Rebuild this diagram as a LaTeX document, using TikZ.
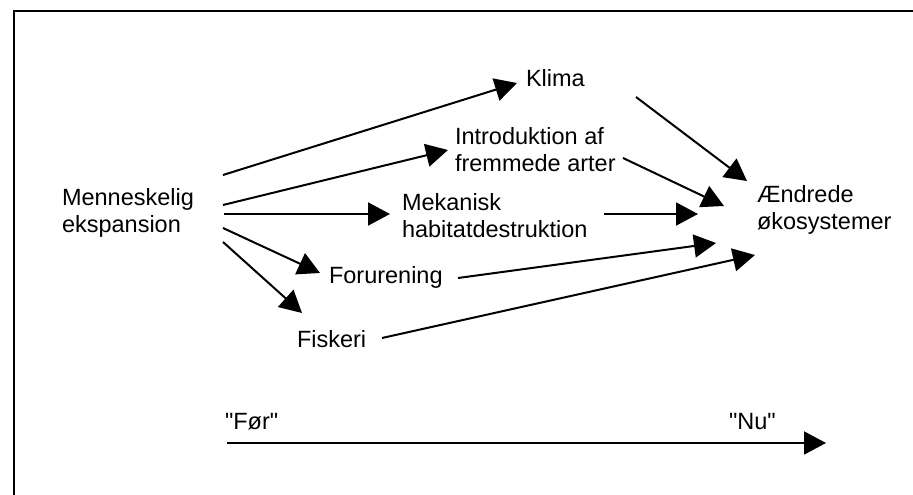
\documentclass[tikz,border=0pt]{standalone}
\usepackage{fontspec}
\setmainfont{Liberation Sans}[Ligatures=TeXOff]
\usetikzlibrary{arrows.meta}

\begin{document}
\begin{tikzpicture}[x=1pt,y=-1pt,
  lbl/.style={anchor=north west,inner sep=0pt,outer sep=0pt,align=left,
    font=\fontsize{23.5}{27}\selectfont},
  arr/.style={line width=2pt,-{Triangle[length=22pt,width=23pt]}}]
\useasboundingbox (0,0) rectangle (913,495);
\draw[line width=2pt] (13.5,495) -- (13.5,11.5) -- (913,11.5);
% causes
\node[lbl] (men) at (62,188) {Menneskelig\\ekspansion};
\node[lbl] (klima) at (526,69) {Klima};
\node[lbl] (intro) at (455,127) {Introduktion af\\fremmede arter};
\node[lbl] (mek) at (402,193) {Mekanisk\\habitatdestruktion};
\node[lbl] (foru) at (329,266) {Forurening};
\node[lbl] (fisk) at (297,330) {Fiskeri};
\node[lbl] (aend) at (757,185) {Ændrede\\økosystemer};
\draw[arr] ([shift={(161,-13)}]men.north west) -- ([shift={(-9,14)}]klima.north west);
\draw[arr] ([shift={(161,17)}]men.north west) -- ([shift={(-7,23)}]intro.north west);
\draw[arr] ([shift={(162,26)}]men.north west) -- ([shift={(-12,21)}]mek.north west);
\draw[arr] ([shift={(161,40)}]men.north west) -- ([shift={(-9,7)}]foru.north west);
\draw[arr] ([shift={(161,54)}]men.north west) -- ([shift={(5,-17)}]fisk.north west);
% effects
\draw[arr] ([shift={(110,28)}]klima.north west) -- ([shift={(-10,-4)}]aend.north west);
\draw[arr] ([shift={(168,31)}]intro.north west) -- ([shift={(-33,21)}]aend.north west);
\draw[arr] ([shift={(202,21)}]mek.north west) -- ([shift={(-59,29)}]aend.north west);
\draw[arr] ([shift={(129,12)}]foru.north west) -- ([shift={(-41,58)}]aend.north west);
\draw[arr] ([shift={(85,8)}]fisk.north west) -- ([shift={(-2,70)}]aend.north west);
% time axis
\node[lbl] (foer) at (225,413) {"Før"};
\node[lbl] (nu) at (729,413) {"Nu"};
\coordinate (past) at (227,443);
\coordinate (now) at (826,443);
\draw[arr] (past) -- (now);
\end{tikzpicture}
\end{document}
